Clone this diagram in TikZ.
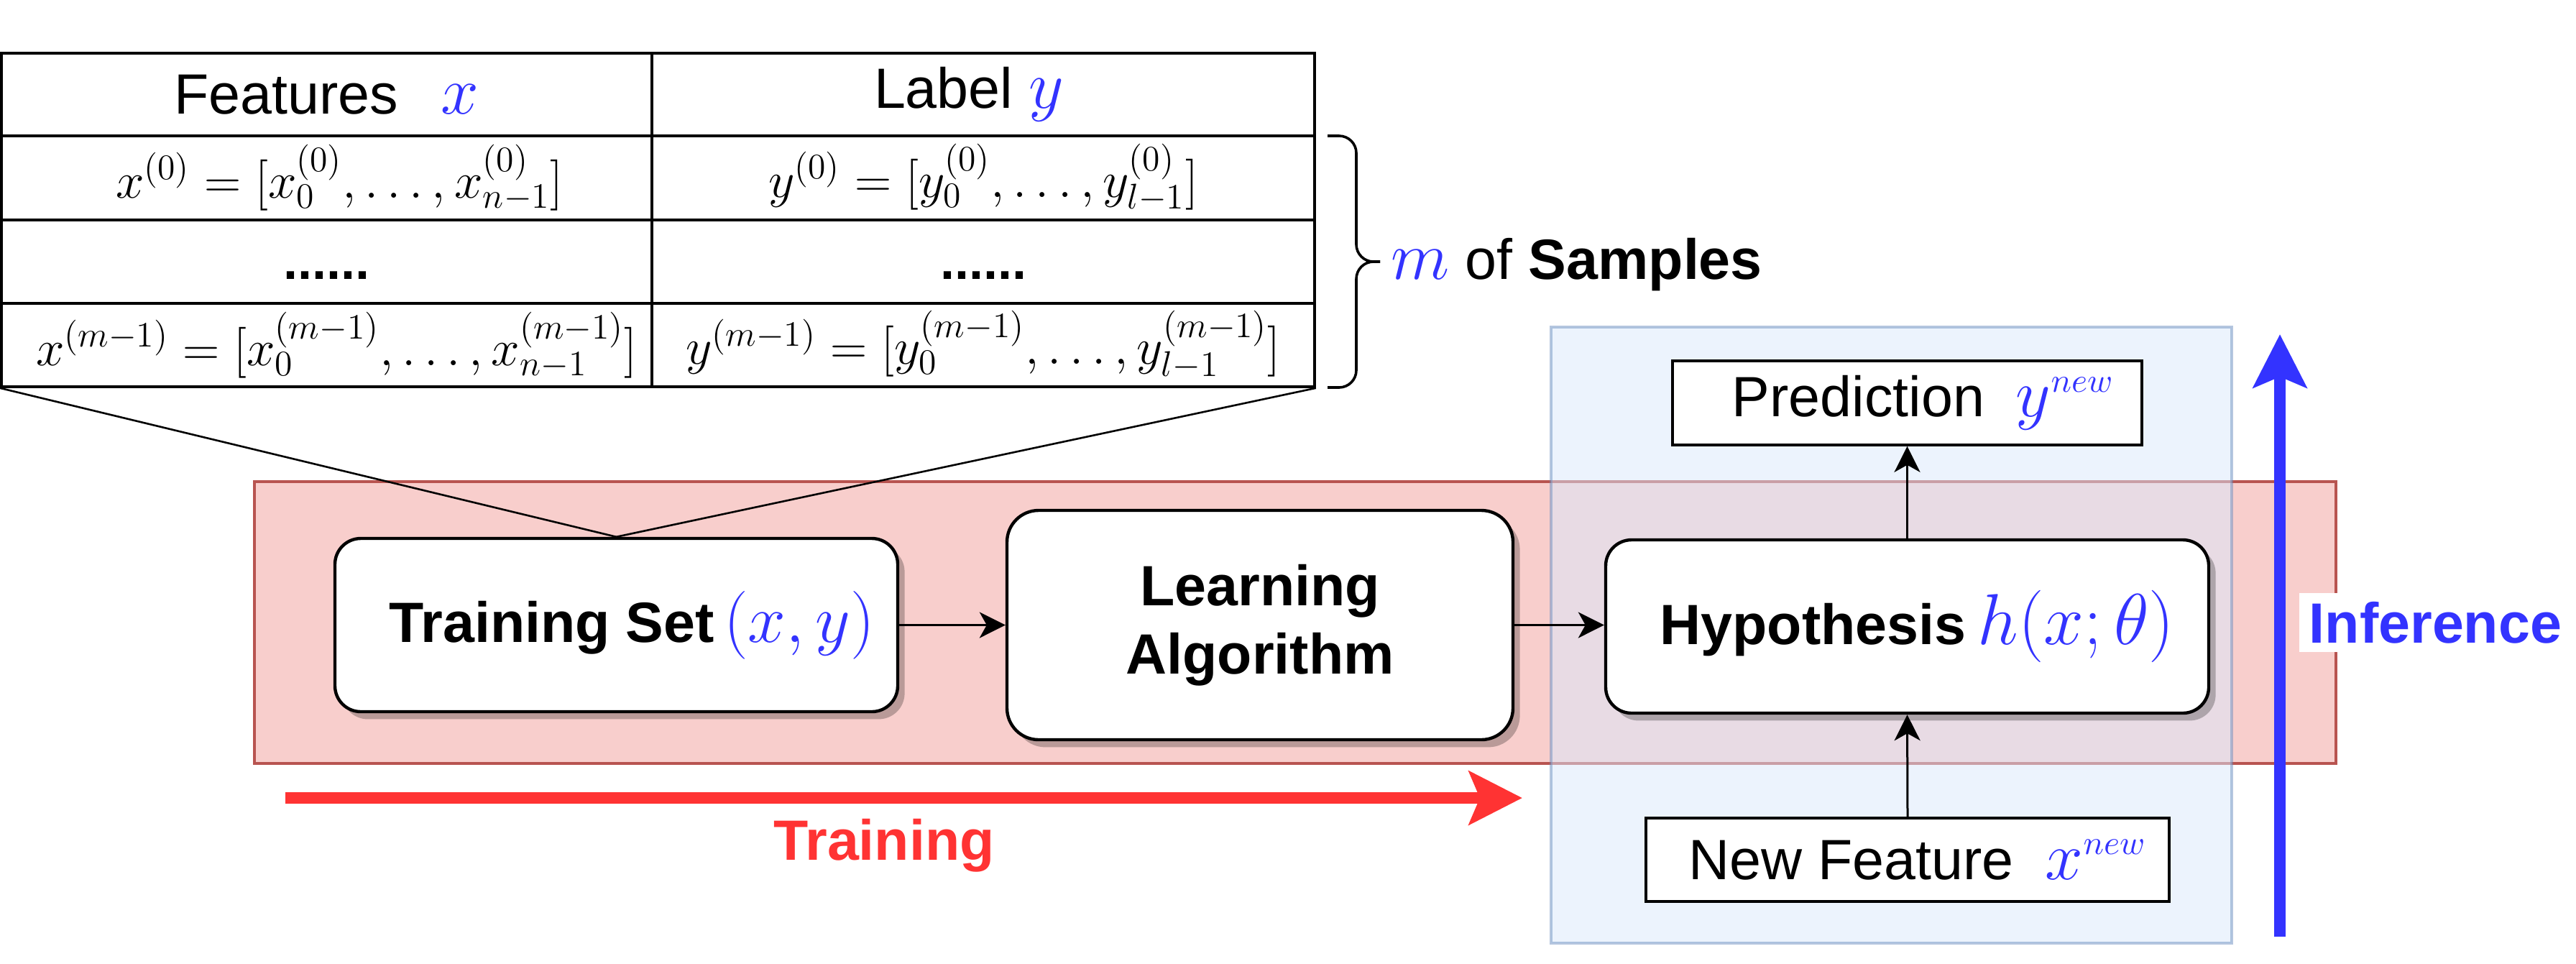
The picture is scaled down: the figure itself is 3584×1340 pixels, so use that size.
\RequirePackage{fix-cm}
\documentclass[tikz,border=0pt]{standalone}
\usepackage[no-math]{fontspec}
\setmainfont{Liberation Sans}
\usetikzlibrary{arrows.meta,shadows}
\definecolor{mblue}{HTML}{3333FF}
\definecolor{tred}{HTML}{FF3333}
\definecolor{redfill}{HTML}{F8CECC}
\definecolor{redline}{HTML}{B85450}
\definecolor{bluefill}{HTML}{DAE8FC}
\definecolor{blueline}{HTML}{6C8EBF}
\newcommand\tx{\fontsize{19.75}{23.7}\selectfont}
\newcommand\mth[1]{{\fontsize{23.7}{28}\selectfont\color{mblue}$#1$}}
\newcommand\bmth[1]{{\fontsize{25.1}{30}\selectfont\color{mblue}$#1$}}
\newcommand\rmth[1]{{\fontsize{17.75}{21}\selectfont$#1$}}
\tikzset{
  rbox/.style={draw, line width=1.1pt, rounded corners=9pt, fill=white,
    drop shadow={shadow xshift=2.4pt, shadow yshift=-2.6pt, fill=black, opacity=0.25},
    font=\tx, inner sep=0pt},
  sbox/.style={draw, line width=0.9pt, fill=white, font=\tx, inner sep=0pt},
  cell/.style={draw, line width=0.9pt, inner sep=0pt, font=\tx},
  conn/.style={line width=0.65pt},
  arr/.style={line width=0.75pt, -{Stealth[length=9pt, width=9pt, inset=2.5pt]}},
  bigarr/.style={line width=4pt, -{Stealth[length=18.5pt, width=18.5pt, inset=3.75pt]}},
}
\begin{document}
\begin{tikzpicture}[x=0.25pt, y=-0.25pt]
\useasboundingbox (0,0) rectangle (3584,1340);
% background groups
\draw[fill=redfill, draw=redline, line width=1pt] (354,670) rectangle (3250,1062);
\draw[fill=bluefill, draw=blueline, line width=1pt, opacity=0.5] (2158,455) rectangle (3105,1312);
% table
\node[cell, minimum width=226.3pt, minimum height=28.75pt] (h1) at (454.4,131.5) {\vphantom{X}Features\hspace{15pt}\mth{x}};
\node[cell, minimum width=230.5pt, minimum height=28.75pt] (h2) at (1368,131.5) {\vphantom{X}Label \mth{y}\hspace*{10pt}};
\node[cell, minimum width=226.3pt, minimum height=29.25pt] (r1a) at (454.4,247.5) {\hspace*{9pt}\rmth{x^{(0)}=[x_0^{(0)},\ldots,x_{n-1}^{(0)}]}};
\node[cell, minimum width=230.5pt, minimum height=29.25pt] (r1b) at (1368,247.5) {\rmth{y^{(0)}=[y_0^{(0)},\ldots,y_{l-1}^{(0)}]}};
\node[cell, minimum width=226.3pt, minimum height=29pt] (r2a) at (454.4,364) {\fontsize{18}{21}\selectfont\bfseries\vphantom{X}......};
\node[cell, minimum width=230.5pt, minimum height=29pt] (r2b) at (1368,364) {\fontsize{18}{21}\selectfont\bfseries\vphantom{X}......};
\node[cell, minimum width=226.3pt, minimum height=29pt] (r3a) at (454.4,480) {\hspace*{7pt}\rmth{x^{(m-1)}=[x_0^{(m-1)},\ldots,x_{n-1}^{(m-1)}]}};
\node[cell, minimum width=230.5pt, minimum height=29pt] (r3b) at (1368,480) {\rmth{y^{(m-1)}=[y_0^{(m-1)},\ldots,y_{l-1}^{(m-1)}]}};
% brace
\draw[line width=0.9pt, rounded corners=6pt] (1847,189) -- (1887,189) -- (1887,364) -- (1920,364);
\draw[line width=0.9pt, rounded corners=6pt] (1847,539) -- (1887,539) -- (1887,364) -- (1920,364);
\node[anchor=base west, inner sep=0pt, font=\tx] (samples) at (1935,388) {\mth{m} of \textbf{Samples}};
% main boxes
\node[rbox, minimum width=195.75pt, minimum height=60.25pt] (train) at (857.5,869.5) {\hspace*{11pt}\textbf{Training Set}\,\mth{(x,y)}};
\node[rbox, rounded corners=11pt, minimum width=176pt, minimum height=79.75pt, align=center, font=\tx\bfseries] (learn) at (1753,869.5) {Learning\\Algorithm};
\node[rbox, minimum width=209.75pt, minimum height=60.25pt] (hyp) at (2653.5,871.5) {\hspace*{7pt}\textbf{Hypothesis}\hspace{4pt}\bmth{h(x;\theta)}};
\node[sbox, minimum width=163.25pt, minimum height=29.25pt] (pred) at (2653.5,560.5) {\hspace*{11pt}Prediction\hspace{11pt}\mth{y^{\scriptscriptstyle new}}};
\node[sbox, minimum width=182pt, minimum height=29pt] (newf) at (2654,1196) {\hspace*{7pt}New Feature\hspace{11pt}\mth{x^{\scriptscriptstyle new}}};
% connectors
\draw[conn] (r3a.south west) -- (train.north);
\draw[conn] (r3b.south east) -- (train.north);
\draw[arr] (train.east) -- (learn.west);
\draw[arr] (learn.east) -- (learn.east -| hyp.west);
\draw[arr] (newf.north) -- (hyp.south);
\draw[arr] (hyp.north) -- (pred.south);
% training arrow
\coordinate (tstart) at (397,1110);
\coordinate (tend) at (2118,1110);
\draw[bigarr, tred] (tstart) -- (tend);
\node[anchor=base, inner sep=0pt, text=tred, font=\tx\bfseries] (tlabel) at (1230,1196) {Training};
% inference arrow
\coordinate (istart) at (3172,1303);
\coordinate (iend) at (3172,465);
\draw[bigarr, mblue] (istart) -- (iend);
\node[anchor=base west, fill=white, inner xsep=3.5pt, inner ysep=3pt, text=mblue, font=\tx\bfseries] (ilabel) at (3198,894) {Inference};
\end{tikzpicture}
\end{document}
